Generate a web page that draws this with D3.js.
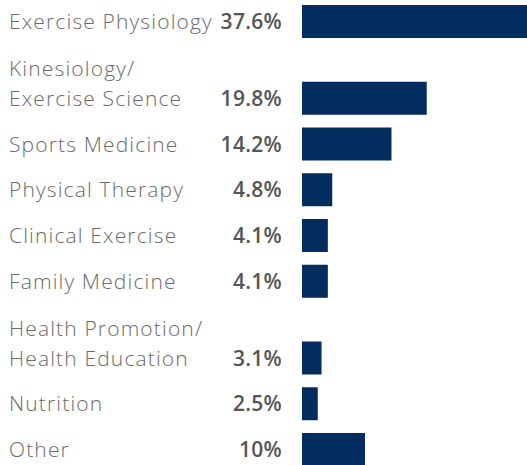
<!DOCTYPE html>
<html>
<head>
<meta charset="utf-8">
<script src="https://cdn.jsdelivr.net/npm/d3@7"></script>
<style>
  html, body { margin: 0; padding: 0; background: #fff; overflow: hidden; }
  .label { font-family: "Open Sans", sans-serif; font-weight: 300; font-size: 21px; letter-spacing: 1.15px; fill: #6b6b6b; }
  .value { font-family: "Open Sans", sans-serif; font-weight: 600; font-size: 21px; letter-spacing: 0.3px; fill: #555; }
</style>
</head>
<body>
<svg id="chart" width="527" height="465"></svg>
<script>
var categories = [
  ["Exercise Physiology"],
  ["Kinesiology/", "Exercise Science"],
  ["Sports Medicine"],
  ["Physical Therapy"],
  ["Clinical Exercise"],
  ["Family Medicine"],
  ["Health Promotion/", "Health Education"],
  ["Nutrition"],
  ["Other"]
];
var values = [37.6, 19.8, 14.2, 4.8, 4.1, 4.1, 3.1, 2.5, 10];
var valueLabels = ["37.6%", "19.8%", "14.2%", "4.8%", "4.1%", "4.1%", "3.1%", "2.5%", "10%"];

var svg = d3.select("#chart");
var barH = 33, lineH = 30, extra = 31 / 45.75;

// slot position of each row: one unit per row, plus a bit for each extra label line
var slots = [], acc = 0;
categories.forEach(function(c, i) {
  if (i > 0) acc += 1 + (c.length - 1) * extra;
  slots.push(acc);
});

var y = d3.scaleLinear().domain([0, slots[slots.length - 1]]).range([21.5, 449.5]);
var x = d3.scaleLinear().domain([0, 10]).range([302, 365]);

var rows = svg.selectAll("g.row").data(values)
  .enter().append("g")
  .attr("class", "row")
  .attr("transform", (d, i) => "translate(0," + y(slots[i]) + ")");

rows.append("rect")
  .attr("x", x(0))
  .attr("y", -barH / 2)
  .attr("width", d => x(d) - x(0))
  .attr("height", barH)
  .attr("fill", "#022d5e");

rows.append("text")
  .attr("class", "value")
  .attr("x", 282)
  .attr("y", 7.5)
  .attr("text-anchor", "end")
  .text((d, i) => valueLabels[i]);

rows.each(function(d, i) {
  var lines = categories[i];
  var t = d3.select(this).append("text").attr("class", "label");
  lines.forEach(function(l, j) {
    t.append("tspan")
      .attr("x", 9)
      .attr("y", 7.5 - (lines.length - 1 - j) * lineH)
      .text(l);
  });
});
</script>
</body>
</html>
